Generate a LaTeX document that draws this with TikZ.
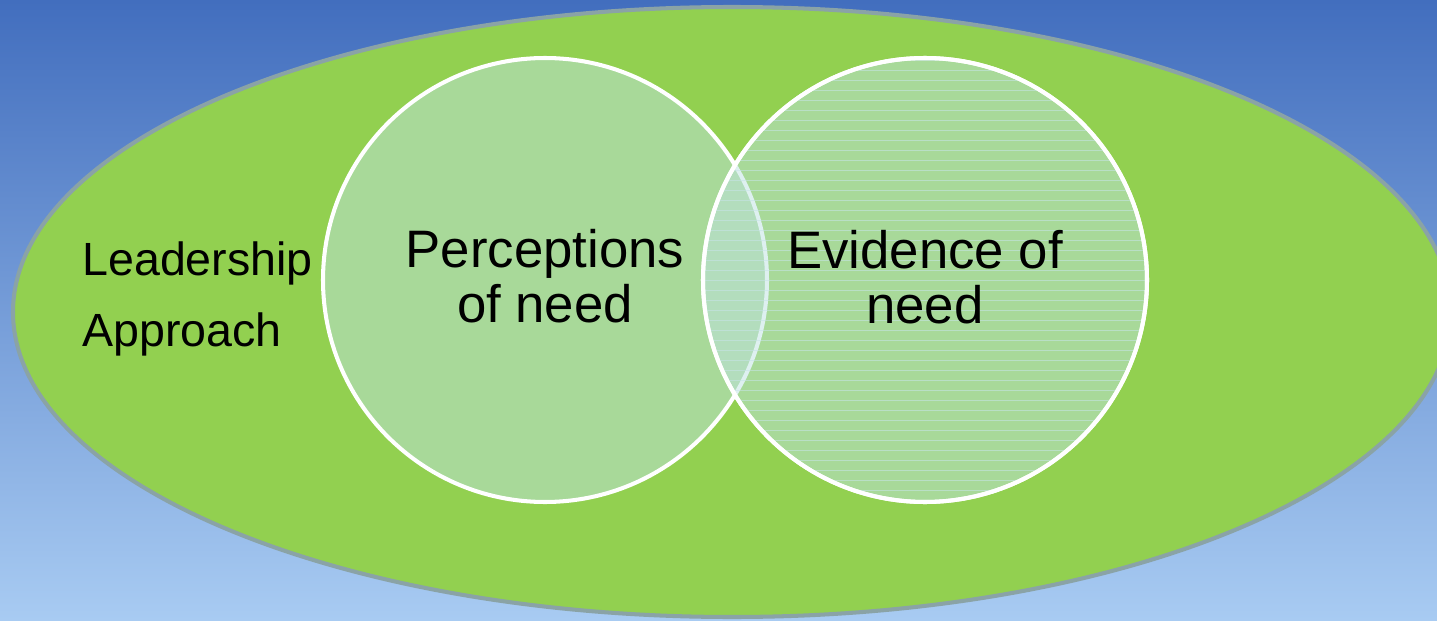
\documentclass[tikz,border=0pt]{standalone}
\usepackage{fontspec}
\setmainfont{Liberation Sans}
\usetikzlibrary{shapes.geometric}
\definecolor{skytop}{RGB}{66,110,190}
\definecolor{skylow}{RGB}{168,203,242}
\definecolor{leafgreen}{RGB}{146,208,80}
\definecolor{rimgrey}{RGB}{138,163,166}
\definecolor{paleveil}{RGB}{190,226,226}
\definecolor{stripeblue}{RGB}{200,228,234}

\begin{document}
\begin{tikzpicture}[
    ring/.style={circle, minimum size=8.88cm, inner sep=0pt, draw=white,
      line width=2.3pt, fill=paleveil, fill opacity=0.5},
    bigtext/.style={inner sep=0pt, align=center, font=\fontsize{30}{31}\selectfont},
  ]
  \useasboundingbox (0,0) rectangle (28.74,12.4);
  \clip (0,0) rectangle (28.74,12.4);
  \fill[top color=skytop, bottom color=skylow] (0,0) rectangle (28.74,12.4);

  \node[ellipse, draw=rimgrey, line width=2.3pt, fill=leafgreen, inner sep=0pt,
    minimum width=28.76cm, minimum height=12.2cm] (field) at (14.64,6.16) {};
  \node[anchor=west, inner sep=0pt, align=left, font=\fontsize{26.5}{40}\selectfont]
    (lead) at (1.64,6.42) {Leadership\\Approach};

  \node[ring] (percep) at (10.9,6.8) {};
  \node[ring] (evid) at (18.5,6.8) {};
  \begin{scope}
    \clip (18.5,6.8) circle (4.40);
    \foreach \y in {2.4,2.6,...,11.4}
      \draw[stripeblue, line width=0.5pt, opacity=0.55] (14,\y) -- (23,\y);
  \end{scope}
  \draw[white, line width=2.3pt] (evid) circle (4.44);

  \node[bigtext] (perceptxt) at (10.9,6.88) {Perceptions\\of need};
  \node[bigtext] (evidtxt) at (18.5,6.86) {Evidence of\\need};
\end{tikzpicture}
\end{document}
